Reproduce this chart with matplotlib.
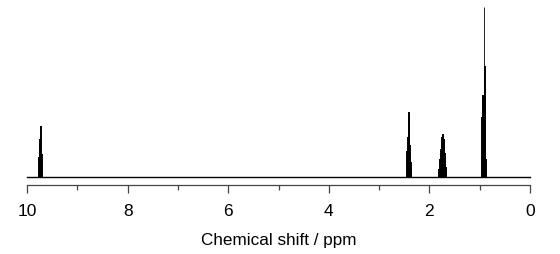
import numpy as np
import matplotlib
matplotlib.use('Agg')
import matplotlib.pyplot as plt

plt.rcParams['font.family'] = ['Liberation Sans', 'DejaVu Sans']

# 1H NMR lines (ppm, height in pixels above baseline)
cho_ppm = [9.765, 9.75, 9.735, 9.72, 9.705]
cho_px = [20, 31, 38, 51, 23]

ch2co_ppm = [2.445, 2.43, 2.415, 2.405, 2.39, 2.375]
ch2co_px = [26, 40, 65, 60, 32, 15]

ch2_ppm = [1.80, 1.785, 1.77, 1.755, 1.74, 1.725, 1.71, 1.695, 1.68, 1.665]
ch2_px = [8, 18, 28, 34, 40, 43, 38, 24, 24, 10]

ch3_ppm = [0.955, 0.94, 0.925, 0.915, 0.90, 0.885, 0.87]
ch3_px = [60, 82, 82, 170, 111, 79, 18]

xticks = [10, 8, 6, 4, 2, 0]
full_scale_px = 170.0

fig = plt.figure(figsize=(5.6, 2.55), dpi=100)
ax = fig.add_axes([27 / 560, 1 - 178 / 255, (530 - 27) / 560, 170 / 255])

ppm = np.array(cho_ppm + ch2co_ppm + ch2_ppm + ch3_ppm)
height = np.array(cho_px + ch2co_px + ch2_px + ch3_px) / full_scale_px

# tallest line is drawn thin (shows grey in the original)
top = np.argmax(height)
thick = np.arange(len(ppm)) != top
ax.vlines(ppm[thick], 0, height[thick], color='black', linewidth=1.4)
ax.vlines(ppm[top], 0, height[top], color='black', linewidth=0.6)

ax.axhline(0, color='black', linewidth=1.0, clip_on=False)

ax.set_xlim(10, 0)
ax.set_ylim(0, 1.0)

for s in ['top', 'right', 'left']:
    ax.spines[s].set_visible(False)
ax.spines['bottom'].set_position(('outward', 6))
ax.spines['bottom'].set_color('#444444')
ax.spines['bottom'].set_linewidth(0.9)
ax.set_yticks([])
ax.set_xticks(xticks)
ax.set_xticks([9, 7, 5, 3, 1], minor=True)
ax.tick_params(axis='x', which='major', length=6, width=0.9, color='#444444',
               labelsize=12.5, pad=6.5)
ax.tick_params(axis='x', which='minor', length=3.8, width=0.9, color='#444444')
ax.set_xlabel('Chemical shift / ppm', fontsize=12.3, labelpad=10)
ax.patch.set_visible(False)

fig.savefig('out.png', dpi=100)
